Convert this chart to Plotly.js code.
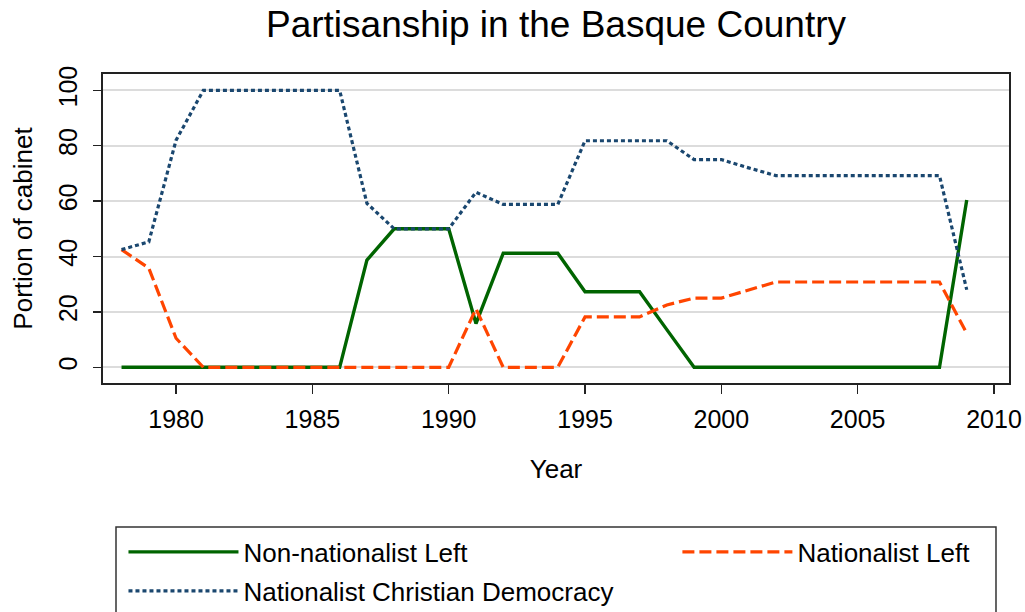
<!DOCTYPE html>
<html><head><meta charset="utf-8">
<script src="https://cdn.plot.ly/plotly-3.0.1.min.js"></script>
<style>html,body{margin:0;padding:0;background:#fff}</style>
</head><body>
<div id="chart" style="width:1025px;height:612px"></div>
<script>
const years = [1978,1979,1980,1981,1982,1983,1984,1985,1986,1987,1988,1989,1990,1991,1992,1993,1994,1995,1996,1997,1998,1999,2000,2001,2002,2003,2004,2005,2006,2007,2008,2009];
const nonNationalistLeft = [0,0,0,0,0,0,0,0,0,38.7,50,50,50,15.8,41.2,41.2,41.2,27.3,27.3,27.3,13.6,0,0,0,0,0,0,0,0,0,0,60.4];
const nationalistLeft = [42.5,35.8,10.5,0,0,0,0,0,0,0,0,0,0,21.1,0,0,0,18.2,18.2,18.2,22.5,25,25,27.9,30.8,30.8,30.8,30.8,30.8,30.8,30.8,12.3];
const nationalistChristianDemocracy = [42.5,45.3,82,100,100,100,100,100,100,59.2,50,50,50,63.2,58.8,58.8,58.8,81.8,81.8,81.8,81.8,75,75,72,69.2,69.2,69.2,69.2,69.2,69.2,69.2,28];
const seriesNames = ["Non-nationalist Left","Nationalist Left","Nationalist Christian Democracy"];
const xTicks = [1980,1985,1990,1995,2000,2005,2010];
const yTicks = [0,20,40,60,80,100];

const FONT = '"Liberation Sans", Arial, sans-serif';
const traces = [
  {x: years, y: nonNationalistLeft, name: seriesNames[0], type:'scatter', mode:'lines',
   line:{color:'#006400', width:3.4}, legend:'legend'},
  {x: years, y: nationalistLeft, name: seriesNames[1], type:'scatter', mode:'lines',
   line:{color:'#ff4500', width:3.2, dash:'12px,5px'}, legend:'legend2'},
  {x: years, y: nationalistChristianDemocracy, name: seriesNames[2], type:'scatter', mode:'lines',
   line:{color:'#1a476f', width:3.2, dash:'4px,3px'}, legend:'legend3'}
];
const legendBase = {orientation:'h', bgcolor:'rgba(0,0,0,0)', borderwidth:0,
  font:{family:FONT, size:26, color:'#000'}, itemwidth:110, xanchor:'left', yanchor:'middle', itemclick:false};
const layout = {
  width:1025, height:612,
  margin:{l:103, r:16, t:74, b:229, autoexpand:false},
  paper_bgcolor:'#fff', plot_bgcolor:'#fff',
  font:{family:FONT, color:'#000'},
  title:{text:'Partisanship in the Basque Country', font:{family:FONT, size:37, color:'#000'},
    x:0.5, xref:'paper', xanchor:'center', y:0.9605, yref:'container', yanchor:'middle'},
  xaxis:{range:[1977.32, 2010.55], tickvals:xTicks, ticktext:xTicks.map(String),
    showgrid:false, zeroline:false, showline:true, mirror:true, linecolor:'#222', linewidth:1.8,
    ticks:'outside', ticklen:9, tickwidth:1.5, tickcolor:'#222', ticklabelstandoff:4,
    tickfont:{family:FONT, size:25, color:'#000'},
    title:{text:'Year', font:{family:FONT, size:26, color:'#000'}, standoff:28}, automargin:false},
  yaxis:{range:[-5.67, 105.9], tickvals:yTicks, ticktext:yTicks.map(String), tickangle:-90,
    showgrid:true, gridcolor:'#dcdcdc', gridwidth:2, zeroline:false,
    showline:true, mirror:true, linecolor:'#222', linewidth:1.8,
    ticks:'outside', ticklen:8, tickwidth:1.5, tickcolor:'#222', ticklabelstandoff:6,
    tickfont:{family:FONT, size:25, color:'#000'},
    title:{text:'Portion of cabinet', font:{family:FONT, size:26, color:'#000'}, standoff:14}, automargin:false},
  showlegend:true,
  legend: Object.assign({}, legendBase, {x:0.0226, y:-0.547}),
  legend2: Object.assign({}, legendBase, {x:0.634, y:-0.547}),
  legend3: Object.assign({}, legendBase, {x:0.0226, y:-0.673}),
  shapes:[{type:'rect', xref:'paper', yref:'paper', x0:0.01435, x1:0.98565, y0:-0.466, y1:-1.2,
    line:{color:'#333', width:1.5}, fillcolor:'rgba(0,0,0,0)', layer:'below'}]
};
Plotly.newPlot('chart', traces, layout, {staticPlot:true, displayModeBar:false});
</script>
</body></html>
